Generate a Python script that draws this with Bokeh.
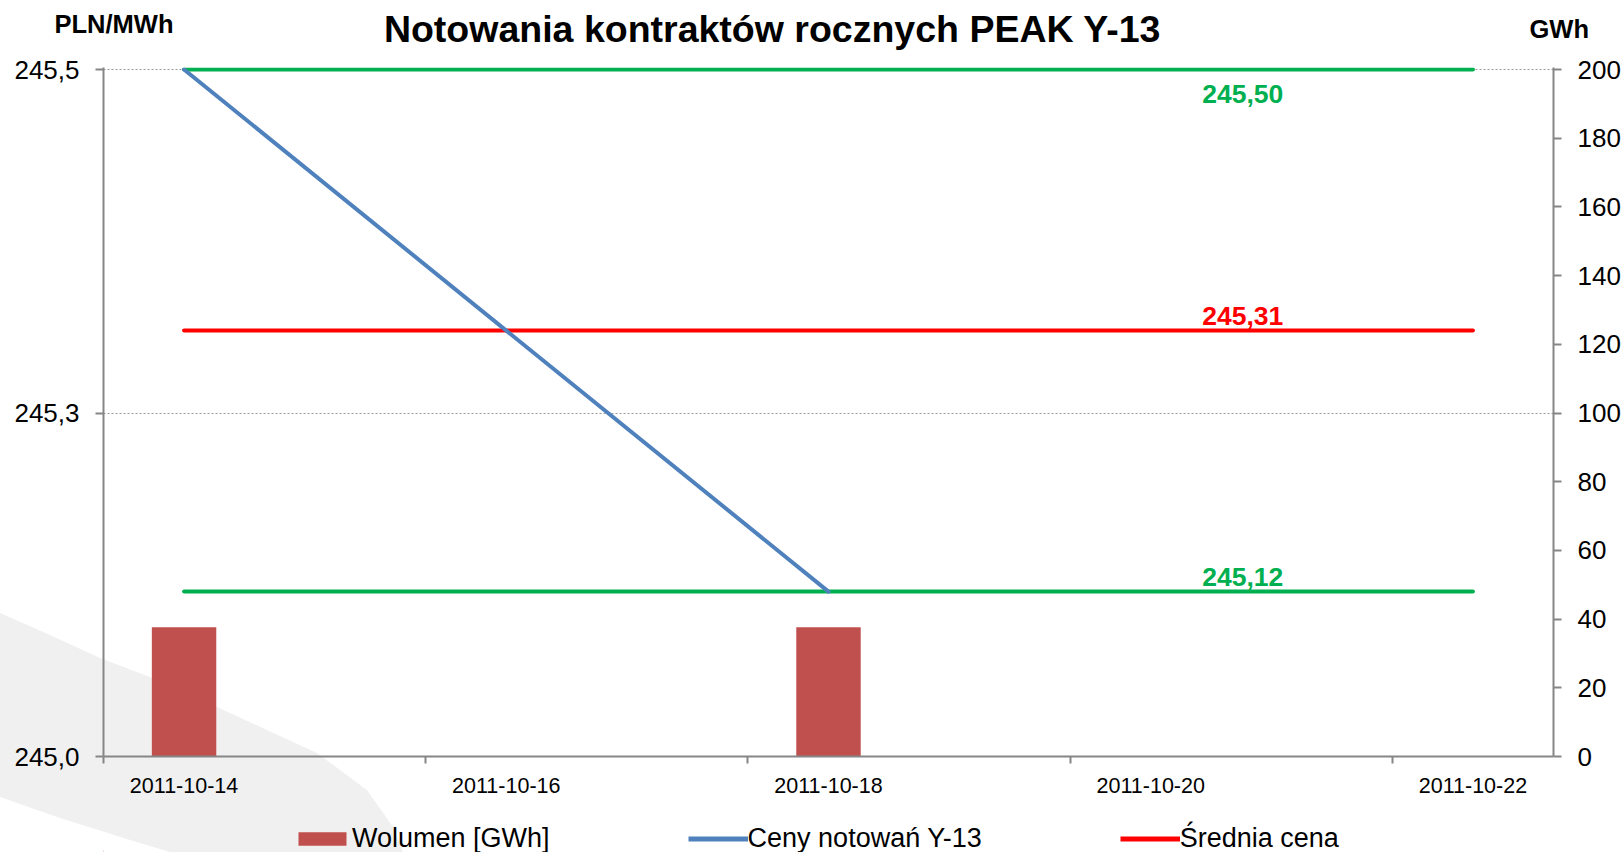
import base64
import pandas as pd
from bokeh.plotting import figure
from bokeh.layouts import column
from bokeh.models import (Range1d, LinearAxis, FixedTicker, CustomJSTickFormatter,
                          Label, Legend, LegendItem)
from bokeh.core.properties import value
from bokeh.embed import file_html
from bokeh.resources import INLINE

# ---------------- data ----------------
trade_dates = ["2011-10-14", "2011-10-18"]
prices = [245.50, 245.12]
volumes = [37.6, 37.6]
span_dates = ["2011-10-14", "2011-10-22"]
max_price = 245.50
avg_price = 245.31
min_price = 245.12
x_tick_dates = ["2011-10-14", "2011-10-16", "2011-10-18", "2011-10-20", "2011-10-22"]
left_ticks = [245.0, 245.25, 245.5]
right_ticks = [0, 20, 40, 60, 80, 100, 120, 140, 160, 180, 200]
title_text = "Notowania kontraktów rocznych PEAK Y-13"
left_unit = "PLN/MWh"
right_unit = "GWh"
legend_labels = ["Wolumen [GWh]", "Ceny notowań Y-13", "Średnia cena"]

DAY = 86400000
FONT = "Liberation Sans"
W = 1624
FL, FR = 103, 1553          # frame left / right (page pixels); column aligns all frames
grey = "#868686"
green = "#00B050"
red = "#FF0000"
blue = "#4F81BD"
bar_col = "#C0504D"


def ms(ds):
    return [int(pd.Timestamp(d).value // 10**6) for d in ds]


def strip(h, y0):
    f = figure(width=W, height=h, output_backend="svg", toolbar_location=None,
               x_range=Range1d(FL, FR), y_range=Range1d(y0 + h, y0),
               x_axis_location=None, y_axis_location=None,
               min_border=0, outline_line_color=None,
               background_fill_alpha=0, border_fill_alpha=0)
    f.xgrid.visible = False
    f.ygrid.visible = False
    return f


def unit_axis(text, tick, standoff):
    ax = LinearAxis(ticker=FixedTicker(ticks=[tick]),
                    formatter=CustomJSTickFormatter(args=dict(t=text), code="return t;"))
    ax.axis_line_color = None
    ax.major_tick_line_color = None
    ax.minor_tick_line_color = None
    ax.major_tick_out = 0
    ax.major_tick_in = 0
    ax.major_label_standoff = standoff
    ax.major_label_text_font = FONT
    ax.major_label_text_font_style = "bold"
    ax.major_label_text_font_size = "25.5px"
    ax.major_label_text_color = "black"
    return ax


# ---------------- top strip: title and units ----------------
top = strip(52, 0)
top.text(x=[772], y=[28.5], text=[title_text], text_align="center", text_baseline="middle",
         text_font=value(FONT), text_font_style="bold", text_font_size="37.5px", text_color="black")
top.add_layout(unit_axis(left_unit, 23.5, FL - 173), "left")
top.add_layout(unit_axis(right_unit, 28, 1529 - FR), "right")

# ---------------- main chart ----------------
tx = ms(trade_dates)
sx = ms(span_dates)
ticks_x = ms(x_tick_dates)
x_start = tx[0] - DAY // 2
x_end = ticks_x[-1] + DAY // 2
minor_x = [t - DAY // 2 for t in ticks_x]

FH = 689  # 2 px headroom so the top line is not clipped
y_top = 245.0 + 0.5 * FH / 687
v_top = 200.0 * FH / 687

p = figure(frame_width=FR - FL, frame_height=FH, output_backend="svg", toolbar_location=None,
           x_range=Range1d(x_start, x_end), y_range=Range1d(245.0, y_top),
           min_border_left=FL, min_border_right=W - FR, min_border_top=15, min_border_bottom=46,
           background_fill_alpha=0, border_fill_alpha=0, outline_line_color=None)
p.extra_y_ranges = {"vol": Range1d(0, v_top)}

xa = p.xaxis[0]
xa.ticker = FixedTicker(ticks=ticks_x, minor_ticks=minor_x)
xa.formatter = CustomJSTickFormatter(code="return new Date(tick).toISOString().slice(0,10);")
xa.axis_line_color = grey
xa.axis_line_width = 2
xa.major_tick_line_color = None
xa.major_tick_out = 0
xa.major_tick_in = 0
xa.minor_tick_line_color = grey
xa.minor_tick_line_width = 2
xa.minor_tick_out = 7
xa.minor_tick_in = 0
xa.major_label_standoff = 14
xa.major_label_text_font = FONT
xa.major_label_text_font_size = "21.5px"
xa.major_label_text_color = "black"

ya = p.yaxis[0]
ya.ticker = FixedTicker(ticks=left_ticks)
ya.formatter = CustomJSTickFormatter(code="return tick.toFixed(1).replace('.', ',');")
ya.axis_line_color = grey
ya.axis_line_width = 2
ya.major_tick_line_color = grey
ya.major_tick_line_width = 2
ya.major_tick_out = 8
ya.major_tick_in = 0
ya.minor_tick_line_color = None
ya.major_label_standoff = 16
ya.major_label_text_font = FONT
ya.major_label_text_font_size = "26px"
ya.major_label_text_color = "black"

ra = LinearAxis(y_range_name="vol", ticker=FixedTicker(ticks=right_ticks))
ra.axis_line_color = grey
ra.axis_line_width = 2
ra.major_tick_line_color = grey
ra.major_tick_line_width = 2
ra.major_tick_out = 8
ra.major_tick_in = 0
ra.minor_tick_line_color = None
ra.major_label_standoff = 16
ra.major_label_text_font = FONT
ra.major_label_text_font_size = "26px"
ra.major_label_text_color = "black"
p.add_layout(ra, "right")

p.xgrid.grid_line_color = None
p.ygrid.ticker = FixedTicker(ticks=left_ticks)
p.ygrid.grid_line_color = "#9a9a9a"
p.ygrid.grid_line_dash = "2 2"
p.ygrid.grid_line_width = 1

p.vbar(x=tx, top=volumes, width=0.4 * DAY, bottom=0, y_range_name="vol",
       fill_color=bar_col, line_color=None)
p.line(x=sx, y=[max_price, max_price], line_color=green, line_width=4, line_cap="round")
p.line(x=sx, y=[min_price, min_price], line_color=green, line_width=4, line_cap="round")
p.line(x=sx, y=[avg_price, avg_price], line_color=red, line_width=4, line_cap="round")
p.line(x=tx, y=prices, line_color=blue, line_width=4, line_cap="round")


def fmt2(v):
    return f"{v:.2f}".replace(".", ",")


lab_x = ms(["2011-10-20"])[0]
for val, col, off in [(max_price, green, -24), (avg_price, red, 15), (min_price, green, 15)]:
    p.add_layout(Label(x=lab_x, y=val, x_offset=92, y_offset=off, text=fmt2(val),
                       text_align="center", text_baseline="middle", text_color=col,
                       text_font=FONT, text_font_style="bold", text_font_size="26.5px"))

# ---------------- bottom strip: legend ----------------
# legend sample renderers hold one point far outside the strip, so only the legend shows them
bot = strip(50, 802)
lg_bar = bot.vbar(x=[-9000], top=[900], width=10, bottom=850, fill_color=bar_col, line_color=None)
lg_price = bot.line(x=[-9000, -8000], y=[830, 830], line_color=blue, line_width=5)
lg_avg = bot.line(x=[-9000, -8000], y=[830, 830], line_color=red, line_width=5)
legend = Legend(items=[LegendItem(label=legend_labels[0], renderers=[lg_bar]),
                       LegendItem(label=legend_labels[1], renderers=[lg_price]),
                       LegendItem(label=legend_labels[2], renderers=[lg_avg])],
                location=(292 - FL, -2), orientation="horizontal",
                glyph_width=60, glyph_height=17, label_standoff=0, spacing=138,
                padding=0, margin=0, border_line_color=None, background_fill_alpha=0,
                label_text_font=FONT, label_text_font_size="27px", label_text_color="black")
bot.add_layout(legend)

# decorative watermark swoosh behind the whole chart
svg = ("<svg xmlns='http://www.w3.org/2000/svg' width='1624' height='852'>"
       "<path d='M0 613 L50 635 L100 658 L150 677 L217 707 L317 753 L367 790 L393 827 L403 852 "
       "L170 852 L130 840 L60 818 L0 797 Z' fill='#f0f0f0'/></svg>")
bg = "url(\"data:image/svg+xml;base64," + base64.b64encode(svg.encode()).decode() + "\")"

layout = column(top, p, bot, spacing=0,
                styles={"background-color": "white", "background-image": bg,
                        "background-repeat": "no-repeat", "background-position": "0 0"})

open("out.html", "w").write(file_html(layout, INLINE))
